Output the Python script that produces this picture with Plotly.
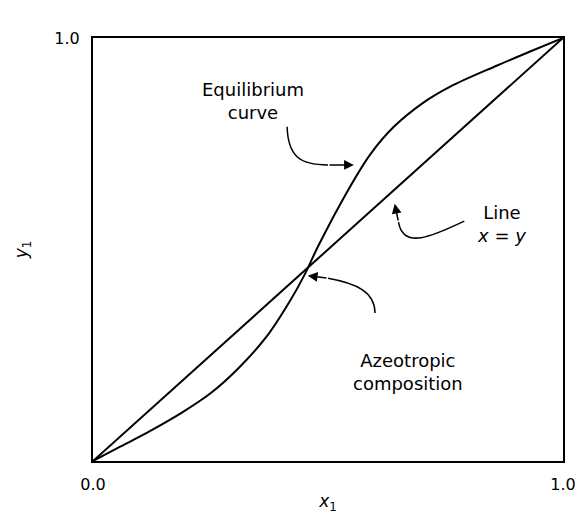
import plotly.graph_objects as go

# liquid mole fraction x1 and vapour mole fraction y1 along the equilibrium curve
x_eq = [0.0, 0.06, 0.12, 0.19, 0.25, 0.31, 0.37, 0.42, 0.45, 0.48, 0.54, 0.59, 0.64, 0.70, 0.76, 0.86, 0.93, 1.0]
y_eq = [0.0, 0.035, 0.07, 0.115, 0.16, 0.22, 0.295, 0.38, 0.44, 0.51, 0.635, 0.725, 0.79, 0.845, 0.885, 0.935, 0.968, 1.0]

# the x = y reference line
x_diag = [0.0, 1.0]
y_diag = [0.0, 1.0]

x_ticks = [0.0, 1.0]
x_tick_text = ['0.0', '1.0']
y_ticks = [1.0]
y_tick_text = ['1.0']

FONT = 'DejaVu Sans'

fig = go.Figure()
fig.add_trace(go.Scatter(x=x_diag, y=y_diag, mode='lines',
                         line=dict(color='black', width=2), hoverinfo='skip'))
fig.add_trace(go.Scatter(x=x_eq, y=y_eq, mode='lines',
                         line=dict(color='black', width=2, shape='spline', smoothing=1.0),
                         hoverinfo='skip'))

# curved arrow shafts
arrow_paths = [
    'M 0.413,0.79 C 0.415,0.72 0.44,0.70 0.50,0.70',
    'M 0.79,0.567 C 0.72,0.53 0.66,0.50 0.65,0.565',
    'M 0.60,0.35 C 0.60,0.40 0.56,0.42 0.50,0.432',
]
for p in arrow_paths:
    fig.add_shape(type='path', path=p, xref='x', yref='y',
                  line=dict(color='black', width=1.5))

# arrow heads (tail -> head)
heads = [((0.50, 0.70), (0.555, 0.70)),
         ((0.65, 0.565), (0.642, 0.608)),
         ((0.50, 0.432), (0.457, 0.438))]
for (ax, ay), (hx, hy) in heads:
    fig.add_annotation(x=hx, y=hy, ax=ax, ay=ay, xref='x', yref='y', axref='x', ayref='y',
                       text='', showarrow=True, arrowhead=2, arrowsize=1.3,
                       arrowwidth=1.5, arrowcolor='black')

labels = [
    (0.34, 0.85, 'Equilibrium<br>curve'),
    (0.87, 0.56, 'Line<br><i>x</i> = <i>y</i>'),
    (0.67, 0.21, 'Azeotropic<br>composition'),
]
for lx, ly, txt in labels:
    fig.add_annotation(x=lx, y=ly, xref='x', yref='y', text=txt, showarrow=False,
                       font=dict(family=FONT, size=18, color='black'), align='center')

axis_style = dict(showgrid=False, zeroline=False, showline=True, mirror=True,
                  linecolor='black', linewidth=2, ticks='', range=[0, 1],
                  tickfont=dict(family=FONT, size=16, color='black'))

fig.update_xaxes(tickvals=x_ticks, ticktext=x_tick_text, ticklabelstandoff=8,
                 title=dict(text='<i>x</i><sub>1</sub>', font=dict(family=FONT, size=17, color='black'),
                            standoff=2),
                 **axis_style)
fig.update_yaxes(tickvals=y_ticks, ticktext=y_tick_text, ticklabelstandoff=8,
                 title=dict(text='<i>y</i><sub>1</sub>', font=dict(family=FONT, size=17, color='black'),
                            standoff=22),
                 **axis_style)

# page body adds an 8px margin, so the figure is sized to fit the 588x520 window
fig.update_layout(width=580, height=512, showlegend=False,
                  margin=dict(l=65, r=17, t=30, b=52),
                  plot_bgcolor='white', paper_bgcolor='white')

fig.write_html('out.html')
